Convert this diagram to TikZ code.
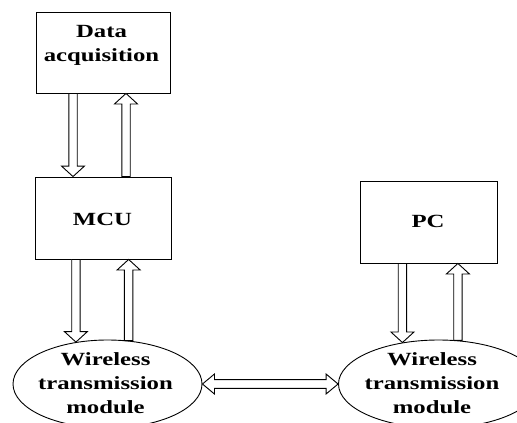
\documentclass[tikz,border=0pt]{standalone}
\usepackage{fontspec}
\setmainfont{Liberation Serif}[FakeStretch=1.33]
\usetikzlibrary{calc,shapes.geometric}
\def\aw{4.2pt}\def\ah{11.5pt}\def\al{10.5pt}
\tikzset{
  box/.style={draw, line width=0.9pt, rectangle, inner sep=0pt},
  oval/.style={draw, line width=0.9pt, ellipse, inner sep=0pt},
  lbl/.style={font=\fontsize{18.6}{24.2}\selectfont\bfseries, align=center, inner sep=0pt},
  fat/.style={draw, line width=0.9pt, fill=white, line join=miter},
}
\newcommand\fatarrow[2]{%
  \coordinate (fas) at (#1);
  \coordinate (fae) at (#2);
  \coordinate (fah) at ($(fae)!\al!(fas)$);
  \draw[fat] ($(fas)!\aw!90:(fae)$) -- ($(fah)!\aw!-90:(fas)$) -- ($(fah)!\ah!-90:(fas)$)
    -- (fae) -- ($(fah)!\ah!90:(fas)$) -- ($(fah)!\aw!90:(fas)$) -- ($(fas)!\aw!-90:(fae)$) -- cycle;}
\newcommand\fatdouble[2]{%
  \coordinate (fbs) at (#1);
  \coordinate (fbe) at (#2);
  \coordinate (fha) at ($(fbs)!12pt!(fbe)$);
  \coordinate (fhb) at ($(fbe)!12pt!(fbs)$);
  \draw[fat] (fbs) -- ($(fha)!10pt!90:(fbe)$) -- ($(fha)!4.4pt!90:(fbe)$) -- ($(fhb)!4.4pt!-90:(fbs)$)
    -- ($(fhb)!10pt!-90:(fbs)$) -- (fbe) -- ($(fhb)!10pt!90:(fbs)$) -- ($(fhb)!4.4pt!90:(fbs)$)
    -- ($(fha)!4.4pt!-90:(fbe)$) -- ($(fha)!10pt!-90:(fbe)$) -- cycle;}
\begin{document}
\begin{tikzpicture}[x=1pt,y=-1pt]
\useasboundingbox (0,0) rectangle (517,423);
\clip (0,0) rectangle (517,423);
% boxes
\node[box, minimum width=134pt, minimum height=81pt] (da) at (103,52.5) {};
\node[lbl] (datxt) at (101.5,45) {Data\\acquisition};
\node[box, minimum width=136pt, minimum height=82pt] (mcu) at (103,218) {};
\node[lbl] (mcutxt) at (102.5,219) {MCU};
\node[box, minimum width=137pt, minimum height=82pt] (pc) at (428.5,222) {};
\node[lbl] (pctxt) at (428,221) {PC};
% ellipses
\node[oval, minimum width=189pt, minimum height=88pt] (wl) at (107.5,384) {};
\node[lbl] (wltxt) at (105.5,383) {Wireless\\transmission\\module};
\node[oval, minimum width=200pt, minimum height=88pt] (wr) at (438.5,384) {};
\node[lbl] (wrtxt) at (432,383) {Wireless\\transmission\\module};
% arrows
\fatarrow{$(da.south)+(-30,0)$}{$(mcu.north)+(-30,0)$}
\fatarrow{$(mcu.north)+(23,0)$}{$(da.south)+(23,0)$}
\fatarrow{wl.127 |- mcu.south}{wl.127}
\fatarrow{wl.64}{wl.64 |- mcu.south}
\fatarrow{wr.131 |- pc.south}{wr.131}
\fatarrow{wr.66}{wr.66 |- pc.south}
\fatdouble{wl.east}{wr.west}
\end{tikzpicture}
\end{document}
